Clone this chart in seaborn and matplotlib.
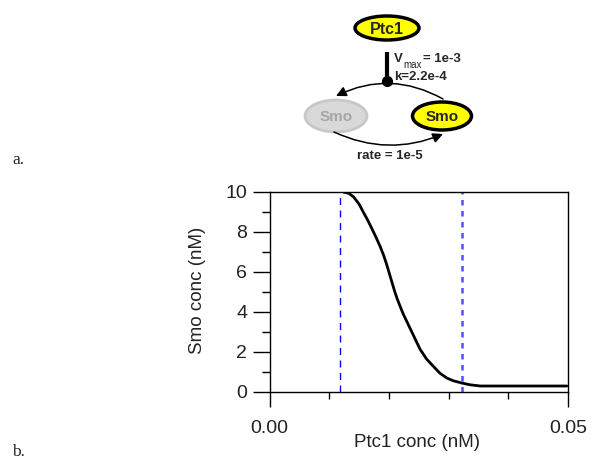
#!/usr/bin/env python3
"""
Ptc1 -> Smo inhibition: reaction scheme (a) and steady-state Smo vs Ptc1 curve (b).
"""

import matplotlib
matplotlib.use("Agg")
import matplotlib.pyplot as plt
from matplotlib.patches import Ellipse, FancyArrowPatch
from matplotlib.ticker import FixedLocator, FormatStrFormatter
import seaborn as sns

# ── Data ───────────────────────────────────────────────────────────────────────
ptc1_conc = [0.0124, 0.0133, 0.0141, 0.0150, 0.0157, 0.0164, 0.0171, 0.0178,
             0.0185, 0.0191, 0.0196, 0.0201, 0.0206, 0.0210, 0.0214, 0.0219,
             0.0224, 0.0232, 0.0240, 0.0252, 0.0263, 0.0274, 0.0285, 0.0297,
             0.0308, 0.0322, 0.0336, 0.0353, 0.0400, 0.0450, 0.0498]
smo_conc = [10.0, 9.93, 9.75, 9.4, 9.0, 8.62, 8.2, 7.76,
            7.3, 6.85, 6.4, 5.9, 5.4, 5.0, 4.65, 4.27,
            3.9, 3.4, 2.9, 2.15, 1.65, 1.3, 0.95, 0.7,
            0.56, 0.45, 0.36, 0.30, 0.30, 0.30, 0.30]
threshold_lo = 0.0118
threshold_hi = 0.0322

x_major = [0.0, 0.05]
x_minor = [0.01, 0.02, 0.03, 0.04]
y_major = [0, 2, 4, 6, 8, 10]
y_minor = [1, 3, 5, 7, 9]

# ── Style ──────────────────────────────────────────────────────────────────────
sns.set_theme(style="ticks")
plt.rcParams["font.family"] = ["Liberation Sans", "DejaVu Sans"]
TXT = "#222222"

fig = plt.figure(figsize=(6.0, 4.76), dpi=100)
W, H = 600, 476

# ── Panel a: reaction scheme (pixel-space overlay) ────────────────────────────
axd = fig.add_axes([0, 0, 1, 1])
axd.set_xlim(0, W)
axd.set_ylim(H, 0)
axd.axis("off")
axd.patch.set_alpha(0)

axd.add_patch(Ellipse((387, 28), 64, 24, facecolor="#ffff00", edgecolor="black", lw=2.5))
axd.text(387, 29, "Ptc1", ha="center", va="center", fontsize=11.5, fontweight="bold")

axd.plot([387, 387], [52, 80], color="black", lw=3, solid_capstyle="butt")
axd.plot(387, 81, "o", color="black", ms=7)
axd.text(394, 59, "V", ha="left", va="center", fontsize=9.5, fontweight="bold")
axd.text(403, 65, "max", ha="left", va="center", fontsize=7)
axd.text(423, 59, "= 1e-3", ha="left", va="center", fontsize=9.5, fontweight="bold")
axd.text(394, 77, "k=2.2e-4", ha="left", va="center", fontsize=9.5, fontweight="bold")

axd.add_patch(Ellipse((336, 116), 62, 32, facecolor="#d9d9d9", edgecolor="#c8c8c8", lw=2))
axd.text(336, 117, "Smo", ha="center", va="center", fontsize=11, fontweight="bold",
         color="#a6a6a6")
axd.add_patch(Ellipse((442, 116), 59, 28, facecolor="#ffff00", edgecolor="black", lw=2.5))
axd.text(442, 117, "Smo", ha="center", va="center", fontsize=11, fontweight="bold")

arrow_kw = dict(arrowstyle="-|>,head_length=0.6,head_width=0.3", mutation_scale=10,
                color="black", lw=1.1, shrinkA=0, shrinkB=0)
axd.add_patch(FancyArrowPatch((443, 99), (336, 96), connectionstyle="arc3,rad=0.26",
                              **arrow_kw))
axd.add_patch(FancyArrowPatch((334, 132), (443, 134), connectionstyle="arc3,rad=0.22",
                              **arrow_kw))
axd.text(390, 156, "rate = 1e-5", ha="center", va="center", fontsize=9.5, fontweight="bold")

axd.text(12, 160, "a.", ha="left", va="center", fontsize=12.5,
         family=["Liberation Serif", "DejaVu Serif"])
axd.text(12, 452, "b.", ha="left", va="center", fontsize=12.5,
         family=["Liberation Serif", "DejaVu Serif"])

# ── Panel b: steady-state curve ───────────────────────────────────────────────
left, right, top, bottom = 269.5, 568, 192, 392
ax = fig.add_axes([left / W, (H - bottom) / H, (right - left) / W, (bottom - top) / H])
ax.set_facecolor("white")

ax.axvline(threshold_lo, color="#0000ff", lw=1.0, ls=(0, (5, 4)))
ax.axvline(threshold_hi, color="#5050ff", lw=1.8, ls=(0, (2.2, 2.2)))
sns.lineplot(x=ptc1_conc, y=smo_conc, color="black", lw=2, ax=ax, sort=True)

ax.set_xlim(0, 0.05)
ax.set_ylim(0, 10)
for sp in ax.spines.values():
    sp.set_visible(True)
    sp.set_color("black")
    sp.set_linewidth(1)

ax.xaxis.set_major_locator(FixedLocator(x_major))
ax.xaxis.set_minor_locator(FixedLocator(x_minor))
ax.xaxis.set_major_formatter(FormatStrFormatter("%.2f"))
ax.yaxis.set_major_locator(FixedLocator(y_major))
ax.yaxis.set_minor_locator(FixedLocator(y_minor))

ax.tick_params(axis="x", which="major", direction="out", length=11, width=1,
               color="black", pad=9, labelsize=14, labelcolor=TXT)
ax.tick_params(axis="x", which="minor", direction="out", length=5, width=1, color="black")
ax.tick_params(axis="y", which="major", direction="out", length=12, width=1,
               color="black", pad=4, labelsize=14, labelcolor=TXT)
ax.tick_params(axis="y", which="minor", direction="out", length=6, width=1, color="black")

ax.set_xlabel("Ptc1 conc (nM)", fontsize=13.5, color=TXT)
ax.set_ylabel("Smo conc (nM)", fontsize=13.5, color=TXT)
ax.xaxis.set_label_coords((417 - left) / (right - left), (bottom - 434) / (bottom - top))
ax.yaxis.set_label_coords((206 - left) / (right - left), (bottom - 290) / (bottom - top))

fig.savefig("out.png", dpi=100)
print("saved out.png")
